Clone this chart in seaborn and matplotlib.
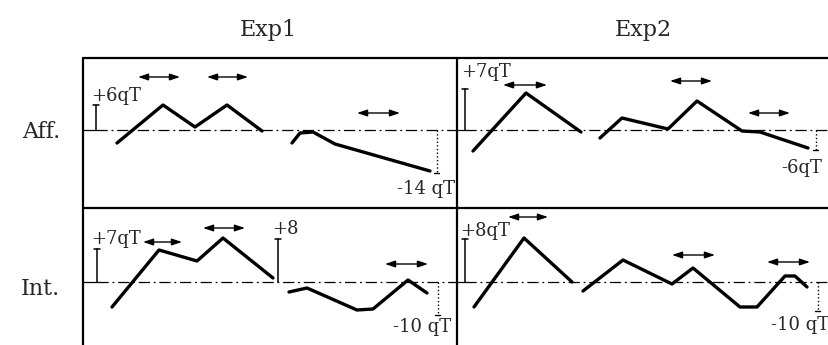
import pandas as pd
import seaborn as sns
import matplotlib.pyplot as plt

# traces, in pixel units of the 829x345 drawing (y grows downwards)
aff1_a_x = [117, 163, 195, 227, 262]
aff1_a_y = [143, 105, 127, 105, 131]
aff1_b_x = [292, 300, 313, 335, 430]
aff1_b_y = [143, 133, 132, 144, 171]
aff2_a_x = [473, 526, 581]
aff2_a_y = [151, 93, 132]
aff2_b_x = [600, 622, 668, 697, 742, 760, 808]
aff2_b_y = [138, 118, 129, 101, 131, 132, 148]
int1_a_x = [112, 159, 197, 223, 273]
int1_a_y = [307, 250, 261, 238, 278]
int1_b_x = [289, 307, 357, 373, 408, 427]
int1_b_y = [292, 288, 310, 309, 280, 293]
int2_a_x = [474, 524, 572]
int2_a_y = [307, 238, 282]
int2_b_x = [583, 623, 672, 693, 740, 757, 785, 795, 807]
int2_b_y = [291, 260, 284, 268, 307, 307, 276, 276, 287]

col_titles = ["Exp1", "Exp2"]
row_titles = ["Aff.", "Int."]
up_labels = ["+6qT", "+7qT", "+7qT", "+8qT"]
down_labels = ["-14 qT", "-6qT", "-10 qT", "-10 qT"]

# scale bars (x, top) and dotted drops (x, bottom) per panel
bar_x = [96, 465, 97, 465]
bar_top = [105, 89, 249, 239]
drop_x = [437, 816, 438, 818]
drop_bot = [173, 150, 315, 311]
base_y = [130, 130, 282, 282]

# double arrows: (x0, x1, y)
arrows = [(138, 180, 77), (207, 248, 77), (357, 400, 113),
          (503, 547, 85), (670, 712, 81), (748, 790, 113),
          (143, 182, 242), (203, 245, 228), (385, 428, 264),
          (508, 548, 217), (672, 715, 255), (767, 810, 262)]

rows = []
for name, xs, ys in [("aff1_a", aff1_a_x, aff1_a_y), ("aff1_b", aff1_b_x, aff1_b_y),
                     ("aff2_a", aff2_a_x, aff2_a_y), ("aff2_b", aff2_b_x, aff2_b_y),
                     ("int1_a", int1_a_x, int1_a_y), ("int1_b", int1_b_x, int1_b_y),
                     ("int2_a", int2_a_x, int2_a_y), ("int2_b", int2_b_x, int2_b_y)]:
    for x, y in zip(xs, ys):
        rows.append({"trace": name, "x": x, "y": y})
traces = pd.DataFrame(rows)

sns.set_style("white")
plt.rcParams['font.family'] = ['DejaVu Serif']

fig = plt.figure(figsize=(8.29, 3.45), dpi=100)
ax = fig.add_axes([0, 0, 1, 1])

# frame
ax.plot([83, 829], [58, 58], color="black", lw=1.6)
ax.plot([83, 829], [208, 208], color="black", lw=1.6)
ax.plot([83, 83], [58, 345], color="black", lw=1.6)
ax.plot([457, 457], [58, 345], color="black", lw=1.6)

# baselines
for i in range(4):
    left = 83 if i % 2 == 0 else 457
    right = 457 if i % 2 == 0 else 829
    by = base_y[i]
    ax.plot([left, bar_x[i]], [by, by], color="black", lw=0.9)
    ax.plot([bar_x[i], right], [by, by], color="black", lw=0.9,
            linestyle=(0, (9, 3, 1.5, 3)))
    # scale bar
    ax.plot([bar_x[i], bar_x[i]], [bar_top[i], by], color="black", lw=1.1)
    ax.plot([bar_x[i] - 3, bar_x[i] + 3], [bar_top[i], bar_top[i]], color="black", lw=1.1)
    # dotted drop
    ax.plot([drop_x[i], drop_x[i]], [by, drop_bot[i]], color="black", lw=1.0, linestyle=":")
    ax.plot([drop_x[i] - 2.5, drop_x[i] + 2.5], [drop_bot[i], drop_bot[i]], color="black", lw=1.0)

# second scale bar in Int./Exp1
ax.plot([278, 278], [239, 282], color="black", lw=1.1)
ax.plot([275, 281], [239, 239], color="black", lw=1.1)

sns.lineplot(data=traces, x="x", y="y", units="trace", estimator=None, sort=False,
             color="black", lw=2.4, ax=ax, legend=False)
ax.set_xlim(0, 829)
ax.set_ylim(345, 0)
ax.axis("off")

for x0, x1, y in arrows:
    ax.annotate("", xy=(x1, y), xytext=(x0, y),
                arrowprops=dict(arrowstyle="<|-|>,head_length=0.6,head_width=0.2",
                                color="black", lw=1.0, shrinkA=0, shrinkB=0))

# labels
ax.text(268, 30, col_titles[0], fontsize=16, ha="center", va="center")
ax.text(643, 30, col_titles[1], fontsize=16, ha="center", va="center")
ax.text(41, 132, row_titles[0], fontsize=16, ha="center", va="center")
ax.text(40, 289, row_titles[1], fontsize=16, ha="center", va="center")

up_pos = [(91, 96), (461, 72), (91, 239), (460, 231)]
down_pos = [(455, 189), (822, 168), (451, 327), (829, 325)]
for lab, (x, y) in zip(up_labels, up_pos):
    ax.text(x, y, lab, fontsize=13, ha="left", va="center")
for lab, (x, y) in zip(down_labels, down_pos):
    ax.text(x, y, lab, fontsize=13, ha="right", va="center")
ax.text(272, 229, "+8", fontsize=13, ha="left", va="center")

fig.savefig("out.png", dpi=100, facecolor="white")
